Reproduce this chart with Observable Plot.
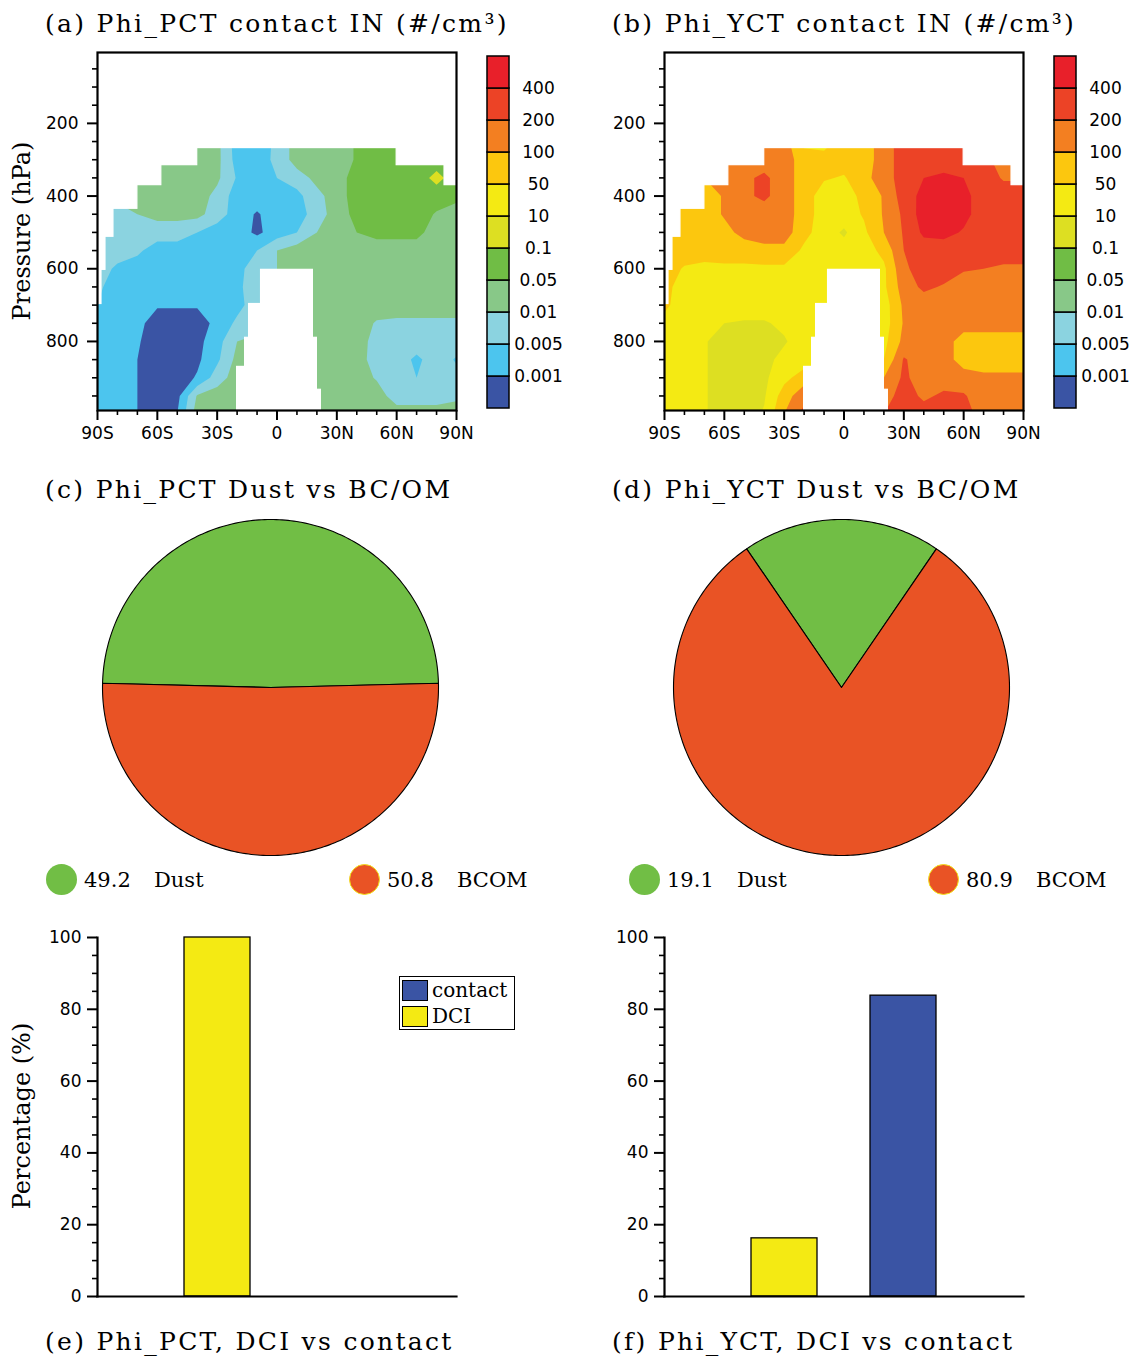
<!DOCTYPE html>
<html><head><meta charset="utf-8">
<script src="https://cdn.jsdelivr.net/npm/d3@7"></script>
<script src="https://cdn.jsdelivr.net/npm/@observablehq/plot@0.6"></script>
<style>
body{margin:0;background:#fff;}
#fig{position:relative;width:1136px;height:1357px;overflow:hidden;background:#fff;color:#000;font-family:"DejaVu Serif",serif;}
.title{position:absolute;font-size:25px;letter-spacing:2.3px;white-space:pre;line-height:1;}
.ylab{position:absolute;font-size:24px;white-space:pre;line-height:1;transform:translate(-50%,-50%) rotate(-90deg);}
.leg{position:absolute;font-size:21px;white-space:pre;line-height:1;}
.dot{position:absolute;width:31px;height:31px;border-radius:50%;box-sizing:border-box;}
.sw{position:absolute;width:26px;height:21px;box-sizing:border-box;border:1px solid #000;}
</style></head><body><div id="fig"></div>
<script>
// ---------------- data ----------------
const latCols = [-90,-80,-70,-60,-50,-40,-30,-20,-10,0,10,20,30,40,50,60,70,80,90];
const pressureRows = [250,300,350,400,450,500,550,600,650,700,750,800,850,900,950,1000];
const levelLabels = ["0.001","0.005","0.01","0.05","0.1","10","50","100","200","400"];
const levelColors = ["#3A54A4","#4CC5EE","#8BD3E0","#88C888","#70BD45","#DDDF22","#F4EA13","#FCC70E","#F37F21","#EC4326","#E8202A"];
// level-index fields (0 = <0.001 ... 10 = >400), rows = pressure, cols = latitude
const gridPCT = [
 [3,3,3,3,3,3,2.8,1,1,1.7,3,3,3,3.6,4,4,4,4,4],
 [3,3,3,3,3,3,2.8,1.1,1.1,1.7,3,3,3,3.6,4,4,4,4,4],
 [3,3,3,3,3,3,2.7,1.4,1.2,1.5,2,2.8,3,4,4,4,4,4.8,4],
 [2.5,2.8,3,3,3,3,2.2,1,1,1,1.2,2.2,3,4,4,4,4,4,3.8],
 [2,2,2.5,2.8,2.8,2.8,2,1,0.4,1,1,2,3,3.8,4,4,4,3.4,3],
 [2,2,2,2,2,1.5,1,1,0.3,1,1.5,2.5,3,3.5,3.8,3.8,3.8,3,3],
 [2,2,1.7,1,1,1,1,1,1.5,2.5,3,3,3,3,3,3,3,3,3],
 [2,1.3,1,1,1,1,1,1.2,2,2.5,2.5,3,3,3,3,3,3,3,3],
 [1.7,1,1,1,1,1,1,1.3,2,2.5,2.5,3,3,3,3,3,3,3,3],
 [1.5,1,1,0.6,0.6,0.6,1,1.2,2,2.5,2.5,2.8,3,3,3,3,3,3,3],
 [1,1,0.8,0,0,0,0.8,1.7,2,2.5,2.5,2.5,3,3,2.4,2.3,2.3,2.3,2.3],
 [1,1,0.6,0,0,0.2,1.1,2.5,2.8,2.8,2.8,2.7,3,3,2.1,2,2,2,2],
 [1,1,0.5,0,0,0.3,1.3,2.8,3,3,3,3,3,3,2,2,1.3,2,1.4],
 [1,1,0.5,0,0,0.6,2,3,3,3,3,3,3,3,2.4,2,1.5,2,1.8],
 [1,1,0.5,0,0.2,2.6,3,3,3,3,3,3,3,3,3,2,2,2,2.3],
 [1,1,0.5,0,0.5,3,3,3,3,3,3,3,3,3,3,3,3,3,3]
];
const gridYCT = [
 [8,8,8,8,8,8,8,6.2,6,7,7,8,9,9,9,9,8.7,8.2,8.2],
 [8,8,8,8,8,8,8,7,7,7,7,8,9,9,9,9,8.7,8.2,8.2],
 [7.5,7.5,7.5,8,8.3,8.7,8,7,6.6,6.4,7.2,8,9,9.5,9.7,9.5,9,8.4,8.4],
 [7,7,7,7.6,8.3,8.7,8,7,6,6,6.8,7.6,9,9.8,10,9.8,9,9,9],
 [7,7,7,7.6,8,8,8,7,6,6,6.6,7.6,8.7,10,10,9.8,9,9,9],
 [7,7,7,7.2,7.8,8,8,6.8,6,5.35,6.3,7.5,8.6,9.7,9.8,9.4,9,9,9],
 [7,7,7,7,7,7.2,7.2,6.3,6,5.9,6,6.8,8.5,9,9,9,9,8.8,8.8],
 [7,6.4,6.2,6.3,6.3,6.3,6.3,6,6,6,6,6.3,8.3,9,9,8.6,8.5,8.4,8.4],
 [6.7,6.2,6,6,6,6,6,6,6,6,6,6.3,8,8.7,8.4,8,8,8,8],
 [6.7,6,6,6,6,6,6,6,6,6,6,6,7.7,8,8,8,8,8,8],
 [6.2,6,5.8,5.5,5.4,5.4,5.7,6,6,6,6,6,7.6,8,8,8,8,8,8],
 [6,6,5.6,5,5,5,5.4,6,6,6,6,6.2,7.8,8,8,7,7,7,7],
 [6,6,5.6,5,5,5.2,5.8,6,6,6,6,6.5,8.6,8,8,7,7,7,7],
 [6,6,5.6,5,5,5.3,6.2,7,6,6,6,7.5,8.7,8,8,8,7.7,7.7,7.7],
 [6,6,5.6,5,5,5.4,7,8.2,7,7,7,8,9,8.3,8.7,8.6,8,7.8,7.6],
 [6,6,5.6,5,5,5.6,7.5,8.8,8,8,8,8.5,9,9,9,8.8,8.2,8,8]
];
// regions without data (white)
const maskLat1 = [-90,-90, 60,-90, 84,-90,-90,-90,-90, -8,-14,-16,-20,-20];
const maskLat2 = [ 90,-40, 90,-58, 90,-70,-82,-86,-88, 18, 18, 20, 20, 22];
const maskP1   = [  0,268,268,315,315,370,435,512,603,603,697,790,870,933];
const maskP2   = [268,315,315,370,370,435,512,603,697,697,790,870,933,1000];
const latMajor = [-90,-60,-30,0,30,60,90];
const pMajor = [200,400,600,800];

const pieCategories = ["Dust","BCOM"];
const pieColors = ["#71BE45","#E95325"];
const pieSharesPCT = [49.2, 50.8];
const pieSharesYCT = [19.1, 80.9];

const barOrder = ["DCI","contact"];
const barLegendOrder = ["contact","DCI"];
const barColors = {contact: "#3A54A4", DCI: "#F4EA13"};
const barPCT = {DCI: 100, contact: 0};
const barYCT = {DCI: 16.2, contact: 83.8};

// ---------------- helpers ----------------
const fig = document.getElementById("fig");
const tickFont = {fontFamily: "'DejaVu Sans', sans-serif", fontSize: "17px", color: "#000", background: "transparent", overflow: "visible"};
function place(el, left, top) { el.style.position = "absolute"; el.style.left = left + "px"; el.style.top = top + "px"; fig.appendChild(el); return el; }
function addDiv(cls, text, left, top, extra) { const d = document.createElement("div"); d.className = cls; d.textContent = text; if (extra) Object.assign(d.style, extra); return place(d, left, top); }
const fmtLat = d => d === 0 ? "0" : (Math.abs(d) + (d < 0 ? "S" : "N"));

function contourPanel(grid) {
  const values = grid.flat();
  const mask = maskLat1.map((v, i) => ({lat1: v, lat2: maskLat2[i], p1: maskP1[i], p2: maskP2[i]}));
  const latMinor = d3.range(-90, 91, 10).filter(d => !latMajor.includes(d));
  const pMinor = d3.range(50, 991, 50).filter(d => !pMajor.includes(d));
  const step = 10, pstep = 50;
  return Plot.plot({
    width: 480, height: 460, marginLeft: 97, marginRight: 24, marginTop: 52, marginBottom: 50,
    x: {domain: [-90, 90]},
    y: {domain: [5, 990], reverse: true},
    color: {type: "threshold", domain: d3.range(0, 10), range: levelColors},
    style: tickFont,
    marks: [
      Plot.contour(values, {
        width: latCols.length, height: pressureRows.length,
        x1: latCols[0] - step / 2, x2: latCols[latCols.length - 1] + step / 2,
        y1: pressureRows[0] - pstep / 2, y2: pressureRows[pressureRows.length - 1] + pstep / 2,
        fill: Plot.identity, thresholds: d3.range(-0.5, 10, 1), clip: true
      }),
      Plot.rect(mask, {x1: "lat1", x2: "lat2", y1: "p1", y2: "p2", fill: "white", stroke: "white", strokeWidth: 1.2, clip: true}),
      Plot.axisX({ticks: latMajor, tickFormat: fmtLat, tickSize: 10, tickPadding: 6, strokeWidth: 2, label: null}),
      Plot.axisX({ticks: latMinor, tickFormat: () => "", tickSize: 5, strokeWidth: 1.6, label: null}),
      Plot.axisY({ticks: pMajor, tickSize: 10, tickPadding: 9, strokeWidth: 2, label: null}),
      Plot.axisY({ticks: pMinor, tickFormat: () => "", tickSize: 5, strokeWidth: 1.6, label: null}),
      Plot.frame({stroke: "#000", strokeWidth: 2.2})
    ]
  });
}

function colorbar() {
  const cells = levelColors.map((c, i) => ({i, c}));
  return Plot.plot({
    width: 100, height: 460, marginLeft: 7, marginRight: 71, marginTop: 56, marginBottom: 52,
    x: {domain: [0, 1], axis: null}, y: {domain: [0, levelColors.length], axis: null},
    color: {type: "identity"},
    style: tickFont,
    marks: [
      Plot.rect(cells, {x1: 0, x2: 1, y1: "i", y2: d => d.i + 1, fill: "c", stroke: "#000", strokeWidth: 1.5}),
      Plot.text(levelLabels, {x: 1, y: (d, i) => i + 1, text: d => d, dx: 29, fontSize: 17, fill: "#000"})
    ]
  });
}

function piePanel(shares, mLeft, mRight) {
  let start = 90 - shares[0] / 100 * 180;
  const marks = shares.map((v, i) => {
    const a0 = start, a1 = start + v / 100 * 360; start = a1;
    const n = Math.max(2, Math.ceil(a1 - a0));
    const pts = [{x: 0, y: 0}];
    for (let k = 0; k <= n; k++) { const a = (a0 + (a1 - a0) * k / n) * Math.PI / 180; pts.push({x: Math.cos(a), y: Math.sin(a)}); }
    return Plot.line(pts, {x: "x", y: "y", fill: pieColors[i], stroke: "#000", strokeWidth: 1.1, curve: "linear-closed"});
  });
  return Plot.plot({
    width: 568, height: 370, marginLeft: mLeft, marginRight: mRight, marginTop: 19, marginBottom: 15,
    x: {domain: [-1, 1], axis: null}, y: {domain: [-1, 1], axis: null},
    style: tickFont,
    marks
  });
}

function barPanel(vals) {
  const data = barOrder.map(c => ({cat: c, v: vals[c]}));
  const minor = d3.range(0, 101, 5).filter(d => d % 20 !== 0);
  return Plot.plot({
    width: 480, height: 400, marginLeft: 97, marginRight: 24, marginTop: 17, marginBottom: 24,
    x: {domain: barOrder, paddingInner: 0.449, paddingOuter: 0.724, axis: null},
    y: {domain: [0, 100]},
    color: {type: "identity"},
    style: tickFont,
    marks: [
      Plot.barY(data, {x: "cat", y: "v", fill: d => barColors[d.cat], stroke: "#000", strokeWidth: 1.3}),
      Plot.axisY({ticks: d3.range(0, 101, 20), tickSize: 10, tickPadding: 6, strokeWidth: 2, label: null}),
      Plot.axisY({ticks: minor, tickFormat: () => "", tickSize: 5, strokeWidth: 1.6, label: null}),
      Plot.frame({anchor: "left", stroke: "#000", strokeWidth: 2.2}),
      Plot.frame({anchor: "bottom", stroke: "#000", strokeWidth: 2.2})
    ]
  });
}

// ---------------- layout ----------------
place(contourPanel(gridPCT), 0, 0);
place(colorbar(), 480, 0);
place(contourPanel(gridYCT), 567, 0);
place(colorbar(), 1047, 0);
addDiv("title", "(a) Phi_PCT contact IN (#/cm\u00B3)", 45, 11);
addDiv("title", "(b) Phi_YCT contact IN (#/cm\u00B3)", 612, 11);
addDiv("ylab", "Pressure (hPa)", 22, 231);

place(piePanel(pieSharesPCT, 102, 130), 0, 500);
place(piePanel(pieSharesYCT, 106, 126), 567, 500);
addDiv("title", "(c) Phi_PCT Dust vs BC/OM", 45, 477);
addDiv("title", "(d) Phi_YCT Dust vs BC/OM", 612, 477);

function pieLegend(shares, xs) {
  shares.forEach((v, i) => {
    const d = document.createElement("div"); d.className = "dot";
    d.style.background = pieColors[i];
    if (i === 1) d.style.border = "1.5px solid #F2E21A";
    place(d, xs[i] - 16, 864);
    addDiv("leg", v.toFixed(1), xs[i] + 22, 870);
    addDiv("leg", pieCategories[i], xs[i] + 92, 870);
  });
}
pieLegend(pieSharesPCT, [62, 365]);
pieLegend(pieSharesYCT, [645, 944]);

place(barPanel(barPCT), 0, 920);
place(barPanel(barYCT), 567, 920);
addDiv("ylab", "Percentage (%)", 22, 1116);
addDiv("title", "(e) Phi_PCT, DCI vs contact", 45, 1329);
addDiv("title", "(f) Phi_YCT, DCI vs contact", 612, 1329);

// bar legend (panel e)
const box = document.createElement("div");
Object.assign(box.style, {width: "116px", height: "54px", border: "1px solid #000", boxSizing: "border-box", background: "#fff"});
place(box, 399, 976);
barLegendOrder.forEach((c, i) => {
  const s = document.createElement("div"); s.className = "sw"; s.style.background = barColors[c];
  place(s, 402, 980 + i * 26);
  addDiv("leg", c, 432, 980 + i * 26, {fontSize: "20px"});
});
</script></body></html>
